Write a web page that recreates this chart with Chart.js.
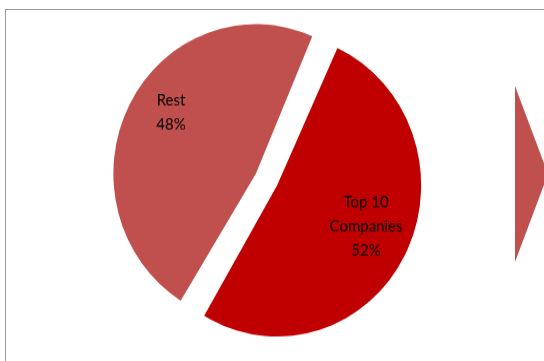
<!DOCTYPE html>
<html lang="en">
<head>
  <meta charset="UTF-8">
  <title>Top 10 Companies vs Rest</title>
  <script src="https://cdn.jsdelivr.net/npm/chart.js"></script>
  <style>
    body {
      margin: 0;
      background-color: #fff;
      overflow: hidden;
    }
    .wrap {
      position: relative;
      width: 544px;
      height: 361px;
    }
    .frame {
      position: absolute;
      left: 5px;
      top: 9px;
      width: 600px;
      height: 400px;
      border-left: 1px solid #999;
      border-top: 1px solid #999;
    }
    .arrow {
      position: absolute;
      left: 515px;
      top: 86px;
      width: 33px;
      height: 176px;
      background-color: #C0504D;
      clip-path: polygon(0 0, 100% 50%, 0 100%);
    }
    canvas {
      position: absolute;
      left: 0;
      top: 0;
      /* the original pie is a little taller than wide */
      transform: scaleY(1.05);
      transform-origin: 0 179.5px;
    }
  </style>
</head>
<body>

<div class="wrap">
  <div class="frame"></div>
  <div class="arrow"></div>
  <canvas id="pieChart" width="544" height="361"></canvas>
</div>

<script>
  const labels = ['Top 10\nCompanies', 'Rest'];
  const shares = [52, 48];
  const colors = ['#C00000', '#C0504D'];

  // labels inside slices, like the data labels in the original
  const sliceLabels = {
    id: 'sliceLabels',
    afterDatasetsDraw(chart, args, opts) {
      const ctx = chart.ctx;
      const meta = chart.getDatasetMeta(0);
      ctx.save();
      ctx.fillStyle = '#000';
      ctx.font = '15px Lato';
      ctx.textAlign = 'center';
      ctx.textBaseline = 'middle';
      meta.data.forEach((arc, i) => {
        const p = arc.getProps(['x', 'y', 'startAngle', 'endAngle', 'outerRadius']);
        const mid = (p.startAngle + p.endAngle) / 2;
        const shift = (arc.options.offset || 0) / 4;
        const r = shift + p.outerRadius * 0.7;
        const nudge = opts.nudge[i] || [0, 0];
        const cx = p.x + Math.cos(mid) * r + nudge[0];
        const cy = p.y + Math.sin(mid) * r + nudge[1];
        const lines = labels[i].split('\n').concat(shares[i] + '%');
        const lh = 23;
        lines.forEach((t, j) => {
          ctx.fillText(t, cx, cy + (j - (lines.length - 1) / 2) * lh);
        });
      });
      ctx.restore();
    }
  };

  new Chart(document.getElementById('pieChart'), {
    type: 'pie',
    data: {
      labels: labels,
      datasets: [{
        data: shares,
        backgroundColor: colors,
        borderWidth: 0,
        offset: 48,
        hoverOffset: 0,
        clip: false
      }]
    },
    options: {
      responsive: false,
      animation: false,
      rotation: 24,
      radius: 132,
      layout: { padding: { left: 0, right: 11, top: 0, bottom: 2 } },
      plugins: {
        legend: { display: false },
        tooltip: { enabled: false },
        sliceLabels: { nudge: [[7, -4], [-3, -15]] }
      }
    },
    plugins: [sliceLabels]
  });
</script>

</body>
</html>
